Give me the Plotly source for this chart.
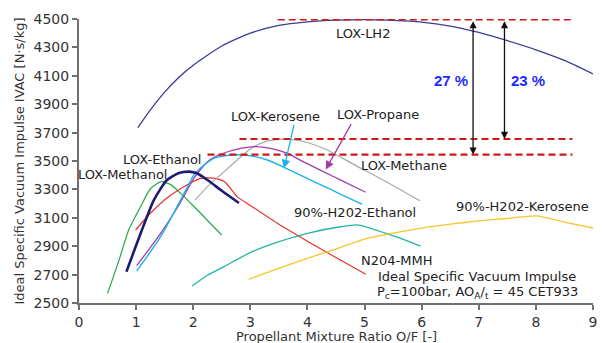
import plotly.graph_objects as go

# ---------------- data ----------------
lh2_of = [1.03, 1.25, 1.5, 1.75, 2.0, 2.5, 3.0, 3.5, 4.0, 4.5, 5.0, 5.5, 6.0, 6.5, 7.0, 7.5, 8.0, 8.5, 9.0]
lh2_isp = [3735, 3860, 3985, 4090, 4175, 4310, 4400, 4455, 4480, 4492, 4495, 4490, 4478, 4450, 4405, 4347, 4283, 4208, 4113]

methanol_of = [0.5, 0.7, 0.87, 1.08, 1.25, 1.44, 1.6, 1.78, 2.0, 2.13, 2.3, 2.5]
methanol_isp = [2568, 2800, 3014, 3180, 3305, 3354, 3335, 3272, 3185, 3132, 3060, 2979]

ethanol_of = [0.83, 1.08, 1.31, 1.54, 1.75, 1.93, 2.05, 2.25, 2.5, 2.8]
ethanol_isp = [2720, 2991, 3225, 3366, 3415, 3425, 3415, 3366, 3290, 3204]

mmh_of = [0.99, 1.25, 1.54, 1.89, 2.13, 2.36, 2.55, 2.77, 3.0, 3.5, 4.0, 4.5, 5.02]
mmh_isp = [3014, 3132, 3240, 3331, 3378, 3380, 3354, 3249, 3187, 3054, 2935, 2820, 2703]

kero_of = [1.01, 1.43, 1.84, 2.01, 2.2, 2.36, 2.65, 3.0, 3.3, 3.59, 3.94, 4.29, 4.52, 4.96]
kero_isp = [2725, 2967, 3272, 3401, 3475, 3519, 3542, 3537, 3507, 3455, 3388, 3322, 3278, 3195]

propane_of = [1.01, 1.43, 1.75, 2.01, 2.25, 2.48, 2.83, 3.1, 3.35, 3.65, 3.94, 4.52, 5.02]
propane_isp = [2763, 2991, 3190, 3378, 3495, 3547, 3589, 3601, 3589, 3554, 3492, 3378, 3280]

methane_of = [2.03, 2.25, 2.5, 2.75, 3.0, 3.25, 3.5, 3.75, 4.0, 4.35, 4.8, 5.3, 5.97]
methane_isp = [3225, 3320, 3410, 3500, 3585, 3635, 3652, 3650, 3630, 3577, 3478, 3372, 3220]

h2o2_eth_of = [1.98, 2.25, 2.54, 2.97, 3.41, 4.0, 4.58, 4.9, 5.46, 5.98]
h2o2_eth_isp = [2620, 2695, 2756, 2850, 2920, 2991, 3037, 3049, 2979, 2901]

h2o2_kero_of = [2.97, 3.41, 4.0, 4.5, 5.0, 5.5, 6.0, 6.5, 7.0, 7.5, 8.0, 8.5, 9.0]
h2o2_kero_isp = [2667, 2732, 2815, 2880, 2950, 2992, 3028, 3055, 3078, 3095, 3113, 3070, 3028]

# curve labels
label_texts = ["LOX-LH2", "LOX-Kerosene", "LOX-Propane", "LOX-Methane", "LOX-Ethanol",
               "LOX-Methanol", "90%-H202-Ethanol", "90%-H202-Kerosene", "N204-MMH"]
label_of = [4.98, 3.44, 5.23, 5.69, 1.46, 0.77, 4.84, 7.76, 5.56]
label_isp = [4401, 3810, 3831, 3465, 3512, 3408, 3136, 3178, 2798]

# reference levels (dashed) and percentage gaps
ref_levels = [4495, 3655, 3545]
ref_start = [3.48, 2.81, 2.25]
ref_end = 8.64
gap_labels = ["27 %", "23 %"]
gap_of = [6.90, 7.45]
gap_lower = [3545, 3655]
gap_upper = [4495, 4495]
gap_label_of = [6.52, 7.87]
gap_label_isp = [4070, 4070]

note_line1 = "Ideal Specific Vacuum Impulse"
note_line2 = "P<sub>c</sub>=100bar, AO<sub>A</sub>/<sub>t</sub> = 45 CET933"
note_of = 6.97
note_isp = [2685, 2573]

x_title = "Propellant Mixture Ratio O/F [-]"
y_title = "Ideal Specific Vacuum Impulse IVAC [N·s/kg]"

x_ticks = list(range(0, 10))
y_ticks = list(range(2500, 4501, 200))

# ---------------- figure ----------------
series = [
    ("LOX-LH2", lh2_of, lh2_isp, "#3c3c92", 1.3),
    ("LOX-Methanol", methanol_of, methanol_isp, "#2eac5a", 1.3),
    ("N204-MMH", mmh_of, mmh_isp, "#e8302c", 1.2),
    ("LOX-Methane", methane_of, methane_isp, "#a8a8a8", 1.2),
    ("LOX-Propane", propane_of, propane_isp, "#a23cae", 1.3),
    ("LOX-Kerosene", kero_of, kero_isp, "#1cb2ea", 1.4),
    ("LOX-Ethanol", ethanol_of, ethanol_isp, "#1c1c70", 2.6),
    ("90%-H202-Ethanol", h2o2_eth_of, h2o2_eth_isp, "#24b3a4", 1.3),
    ("90%-H202-Kerosene", h2o2_kero_of, h2o2_kero_isp, "#f6c62c", 1.3),
]

fig = go.Figure()
for name, xs, ys, col, w in series:
    fig.add_trace(go.Scatter(x=xs, y=ys, mode="lines", name=name,
                             line=dict(color=col, width=w, shape="spline", smoothing=0.6),
                             hoverinfo="skip"))

shapes = []
for lvl, x0, wdt in zip(ref_levels, ref_start, [1.8, 1.8, 2.4]):
    shapes.append(dict(type="line", xref="x", yref="y", x0=x0, x1=ref_end, y0=lvl, y1=lvl,
                       line=dict(color="#cc1a1a", width=wdt, dash="7px,4px")))

annotations = []
font_lbl = dict(family="DejaVu Sans", size=13, color="#222222")
for t, xo, yo in zip(label_texts, label_of, label_isp):
    annotations.append(dict(x=xo, y=yo, xref="x", yref="y", text=t, showarrow=False,
                            font=font_lbl, xanchor="center", yanchor="middle"))

# pointer arrows for kerosene and propane labels
annotations.append(dict(x=3.59, y=3449, ax=3.77, ay=3765, xref="x", yref="y", axref="x", ayref="y",
                        text="", showarrow=True, arrowhead=2, arrowsize=1.3, arrowwidth=1.3,
                        arrowcolor="#1cb2ea"))
annotations.append(dict(x=4.32, y=3440, ax=4.78, ay=3770, xref="x", yref="y", axref="x", ayref="y",
                        text="", showarrow=True, arrowhead=2, arrowsize=1.3, arrowwidth=1.3,
                        arrowcolor="#a23cae"))

for xo, lo, hi in zip(gap_of, gap_lower, gap_upper):
    annotations.append(dict(x=xo, y=lo, ax=xo, ay=hi, xref="x", yref="y", axref="x", ayref="y",
                            text="", showarrow=True, arrowhead=2, startarrowhead=2,
                            arrowside="end+start", arrowsize=1.1, startarrowsize=1.1,
                            arrowwidth=1.3, arrowcolor="#111111"))
for t, xo, yo in zip(gap_labels, gap_label_of, gap_label_isp):
    annotations.append(dict(x=xo, y=yo, xref="x", yref="y", text="<b>%s</b>" % t, showarrow=False,
                            font=dict(family="Liberation Sans", size=15, color="#1e2cff")))

annotations.append(dict(x=note_of, y=note_isp[0], xref="x", yref="y", text=note_line1,
                        showarrow=False, font=font_lbl))
annotations.append(dict(x=note_of, y=note_isp[1], xref="x", yref="y", text=note_line2,
                        showarrow=False, font=font_lbl))

# x-axis title placed as a paper annotation just below the tick labels
annotations.append(dict(x=0.5, y=-0.085, xref="paper", yref="paper", text=x_title,
                        showarrow=False, xanchor="center", yanchor="top",
                        font=dict(family="DejaVu Sans", size=13, color="#333333")))

axis_common = dict(showgrid=False, zeroline=False, showline=True, linecolor="#707070", linewidth=2,
                   ticks="outside", ticklen=5, tickwidth=1.5, tickcolor="#707070", automargin=False,
                   tickfont=dict(family="DejaVu Sans", size=14, color="#333333"))

# the page body adds an 8px offset, so the figure is sized/margined to compensate
fig.update_layout(
    width=597, height=335,
    margin=dict(l=71, r=12, t=11, b=40, pad=0),
    paper_bgcolor="white", plot_bgcolor="white",
    showlegend=False,
    shapes=shapes,
    annotations=annotations,
    xaxis=dict(range=[0, 9], tickvals=x_ticks, **axis_common),
    yaxis=dict(range=[2500, 4500], tickvals=y_ticks,
               title=dict(text=y_title, standoff=6,
                          font=dict(family="DejaVu Sans", size=13, color="#333333")),
               **axis_common),
)

fig.write_html("out.html")
